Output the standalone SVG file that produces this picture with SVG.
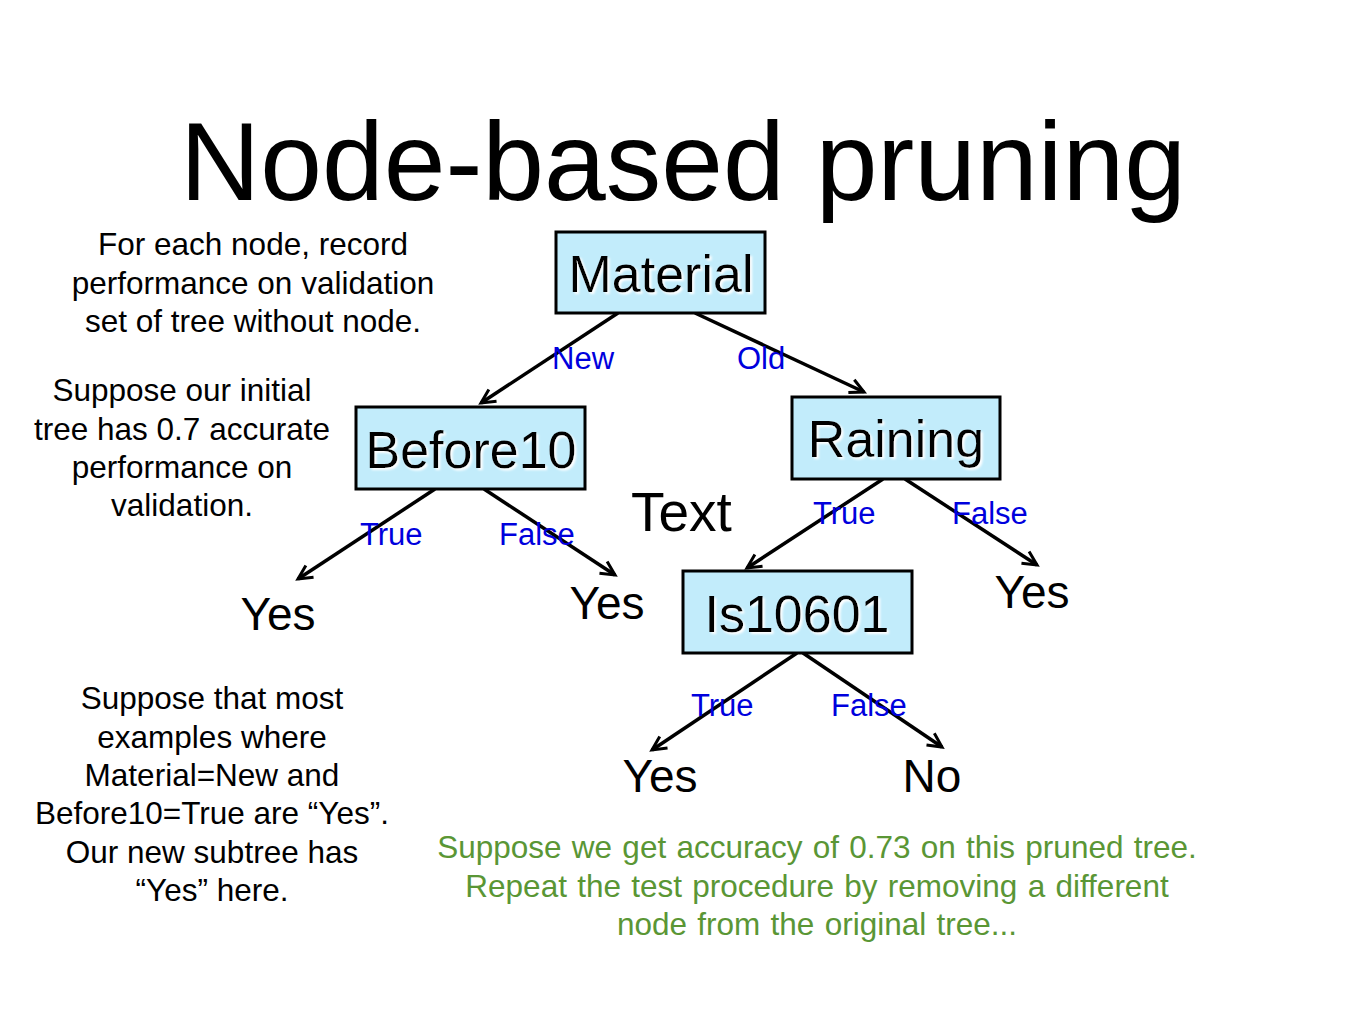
<svg xmlns="http://www.w3.org/2000/svg" width="1365" height="1024" viewBox="0 0 1365 1024">
<style>
text{font-family:"Liberation Sans",Arial,sans-serif}
.title{font-size:111px;fill:#000}
.box{fill:#c2ecfb;stroke:#000;stroke-width:3}
.bt{font-size:52px;fill:#000;text-anchor:middle;filter:url(#glow)}
.leaf{font-size:46px;fill:#000;text-anchor:middle}
.lbl{font-size:31px;fill:#0000dd}
.note{font-size:31.5px;fill:#000;text-anchor:middle}
.green{font-size:31.5px;fill:#5a9635;text-anchor:middle;word-spacing:1.5px}
.edge{stroke:#000;stroke-width:3.5;fill:none;marker-end:url(#arr)}
</style>
<defs>
<marker id="arr" markerUnits="userSpaceOnUse" markerWidth="20" markerHeight="20" refX="15" refY="8" orient="auto" viewBox="0 0 20 16">
<path d="M1,1 L15,8 L1,15" fill="none" stroke="#000" stroke-width="3"/>
</marker>
<filter id="glow" x="-10%" y="-20%" width="120%" height="140%">
<feDropShadow dx="2" dy="2" stdDeviation="1" flood-color="#ffffff" flood-opacity="1"/>
</filter>
</defs>
<rect width="1365" height="1024" fill="#fff"/>
<text class="title" x="683" y="200" text-anchor="middle">Node-based pruning</text>

<g id="connectors">
<line class="edge" x1="618" y1="313" x2="481" y2="403"/>
<line class="edge" x1="695" y1="313" x2="864" y2="392"/>
<line class="edge" x1="435" y1="489" x2="298" y2="579"/>
<line class="edge" x1="484" y1="489" x2="615" y2="575"/>
<line class="edge" x1="883" y1="479" x2="747" y2="568"/>
<line class="edge" x1="905" y1="479" x2="1037" y2="565"/>
<line class="edge" x1="797" y1="653" x2="652" y2="750"/>
<line class="edge" x1="803" y1="653" x2="942" y2="747"/>
<text class="lbl" x="552" y="369">New</text>
<text class="lbl" x="737" y="369">Old</text>
<text class="lbl" x="360" y="545">True</text>
<text class="lbl" x="499" y="545">False</text>
<text class="lbl" x="813" y="524">True</text>
<text class="lbl" x="952" y="524">False</text>
<text class="lbl" x="691" y="716">True</text>
<text class="lbl" x="831" y="716">False</text>
</g>

<g id="material">
<rect class="box" x="556" y="232" width="209" height="81"/>
<text class="bt" x="661" y="292">Material</text>
</g>
<g id="before10">
<rect class="box" x="356" y="407" width="229" height="82"/>
<text class="bt" x="471" y="468">Before10</text>
</g>
<g id="raining">
<rect class="box" x="792" y="397" width="208" height="82"/>
<text class="bt" x="896" y="457">Raining</text>
</g>
<g id="is10601">
<rect class="box" x="683" y="571" width="229" height="82"/>
<text class="bt" x="797" y="632">Is10601</text>
</g>

<g id="leaf-yes1"><text class="leaf" x="278" y="630">Yes</text></g>
<g id="leaf-yes2"><text class="leaf" x="607" y="619">Yes</text></g>
<g id="leaf-yes3"><text class="leaf" x="1032" y="608">Yes</text></g>
<g id="leaf-yes4"><text class="leaf" x="660" y="792">Yes</text></g>
<g id="leaf-no"><text class="leaf" x="932" y="792">No</text></g>

<text x="631" y="531" style="font-size:55px;fill:#000">Text</text>

<g id="note1">
<text class="note" x="253" y="255">For each node, record</text>
<text class="note" x="253" y="294">performance on validation</text>
<text class="note" x="253" y="332">set of tree without node.</text>
</g>
<g id="note2">
<text class="note" x="182" y="401">Suppose our initial</text>
<text class="note" x="182" y="440">tree has 0.7 accurate</text>
<text class="note" x="182" y="478">performance on</text>
<text class="note" x="182" y="516">validation.</text>
</g>
<g id="note3">
<text class="note" x="212" y="709">Suppose that most</text>
<text class="note" x="212" y="748">examples  where</text>
<text class="note" x="212" y="786">Material=New and</text>
<text class="note" x="212" y="824">Before10=True are “Yes”.</text>
<text class="note" x="212" y="863">Our new subtree has</text>
<text class="note" x="212" y="901">“Yes” here.</text>
</g>
<g id="note4">
<text class="green" x="817" y="858">Suppose we get accuracy of 0.73 on this pruned tree.</text>
<text class="green" x="817" y="897">Repeat the test procedure by removing a different</text>
<text class="green" x="817" y="935">node from the original tree...</text>
</g>
</svg>
